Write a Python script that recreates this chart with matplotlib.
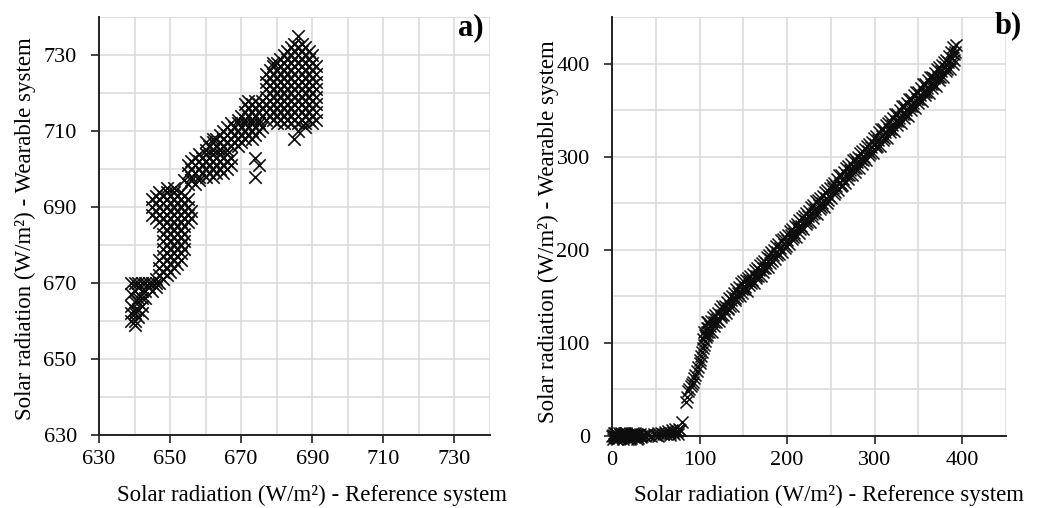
import matplotlib
matplotlib.use("Agg")
import matplotlib.pyplot as plt
from matplotlib.ticker import MultipleLocator

# ---------------- panel a: (reference, wearable) readings, by cluster ----------------
a_low = [(639, 660), (640, 660), (641, 661), (639, 662), (640, 662), (641, 663), (642, 664),
         (639, 664), (640, 665), (641, 666), (639, 667), (640, 668), (642, 668), (641, 669),
         (639, 670), (640, 670), (641, 670), (642, 670), (643, 670), (644, 670), (645, 670),
         (646, 670), (647, 670), (643, 668), (644, 669), (645, 668), (646, 669), (642, 666),
         (641, 665), (640, 663), (642, 662), (643, 666), (640, 659)]
a_mid1 = [(649, 684), (651, 684), (653, 684), (648, 683), (650, 683), (652, 683), (654, 683),
          (649, 682), (651, 682), (653, 682), (648, 681), (650, 681), (652, 681), (654, 681),
          (649, 680), (651, 680), (653, 680), (648, 679), (650, 679), (652, 679), (654, 679),
          (649, 678), (651, 678), (653, 678), (648, 677), (650, 677), (652, 677), (647, 676),
          (649, 676), (651, 676), (653, 676), (648, 675), (650, 675), (652, 675), (647, 674),
          (649, 674), (651, 674), (648, 673), (650, 673), (647, 672), (649, 672), (646, 671),
          (648, 671)]
a_mid2 = [(649, 695), (651, 695), (647, 694), (649, 694), (651, 694), (653, 694), (646, 693),
          (648, 693), (650, 693), (652, 693), (654, 693), (645, 692), (647, 692), (649, 692),
          (651, 692), (653, 692), (655, 692), (646, 691), (648, 691), (650, 691), (652, 691),
          (654, 691), (645, 690), (647, 690), (649, 690), (651, 690), (653, 690), (655, 690),
          (646, 689), (648, 689), (650, 689), (652, 689), (654, 689), (656, 689), (645, 688),
          (647, 688), (649, 688), (651, 688), (653, 688), (655, 688), (646, 687), (648, 687),
          (650, 687), (652, 687), (654, 687), (656, 687), (647, 686), (649, 686), (651, 686),
          (653, 686), (655, 686), (648, 685), (650, 685), (652, 685), (654, 685)]
a_mid3 = [(654, 697), (656, 697), (658, 697), (655, 696), (657, 696),
          (658, 704), (660, 704), (662, 704), (664, 704), (666, 704), (657, 703), (659, 703),
          (661, 703), (663, 703), (665, 703), (667, 703), (656, 702), (658, 702), (660, 702),
          (662, 702), (664, 702), (666, 702), (655, 701), (657, 701), (659, 701), (661, 701),
          (663, 701), (665, 701), (667, 701), (656, 700), (658, 700), (660, 700), (662, 700),
          (664, 700), (666, 700), (655, 699), (657, 699), (659, 699), (661, 699), (663, 699),
          (665, 699), (656, 698), (658, 698), (660, 698), (662, 698), (660, 707), (662, 708)]
a_mid4 = [(667, 712), (669, 712), (671, 712), (673, 712), (675, 712), (666, 711), (668, 711),
          (670, 711), (672, 711), (674, 711), (676, 711), (665, 710), (667, 710), (669, 710),
          (671, 710), (673, 710), (675, 710), (664, 709), (666, 709), (668, 709), (670, 709),
          (672, 709), (674, 709), (663, 708), (665, 708), (667, 708), (669, 708), (671, 708),
          (673, 708), (662, 707), (664, 707), (666, 707), (668, 707), (670, 707), (661, 706),
          (663, 706), (665, 706), (667, 706), (669, 706), (660, 705), (662, 705), (664, 705),
          (666, 705)]
a_mid5 = [(672, 718), (674, 718), (676, 718), (671, 717), (673, 717), (675, 717), (677, 717),
          (672, 716), (674, 716), (676, 716), (671, 715), (673, 715), (675, 715), (677, 715),
          (670, 714), (672, 714), (674, 714), (676, 714), (669, 713), (671, 713), (673, 713),
          (675, 713), (677, 713)]
a_top = [(680, 712), (682, 712), (684, 712), (686, 712), (688, 712), (690, 712),
         (679, 713), (681, 713), (683, 713), (685, 713), (687, 713), (689, 713), (691, 713),
         (678, 714), (680, 714), (682, 714), (684, 714), (686, 714), (688, 714), (690, 714),
         (679, 715), (681, 715), (683, 715), (685, 715), (687, 715), (689, 715), (691, 715),
         (678, 716), (680, 716), (682, 716), (684, 716), (686, 716), (688, 716), (690, 716),
         (679, 717), (681, 717), (683, 717), (685, 717), (687, 717), (689, 717), (691, 717),
         (678, 718), (680, 718), (682, 718), (684, 718), (686, 718), (688, 718), (690, 718),
         (677, 719), (679, 719), (681, 719), (683, 719), (685, 719), (687, 719), (689, 719),
         (691, 719), (678, 720), (680, 720), (682, 720), (684, 720), (686, 720), (688, 720),
         (690, 720), (677, 721), (679, 721), (681, 721), (683, 721), (685, 721), (687, 721),
         (689, 721), (691, 721), (678, 722), (680, 722), (682, 722), (684, 722), (686, 722),
         (688, 722), (690, 722), (677, 723), (679, 723), (681, 723), (683, 723), (685, 723),
         (687, 723), (689, 723), (691, 723), (678, 724), (680, 724), (682, 724), (684, 724),
         (686, 724), (688, 724), (690, 724), (677, 725), (679, 725), (681, 725), (683, 725),
         (685, 725), (687, 725), (689, 725), (691, 725), (678, 726), (680, 726), (682, 726),
         (684, 726), (686, 726), (688, 726), (690, 726), (679, 727), (681, 727), (683, 727),
         (685, 727), (687, 727), (689, 727), (691, 727), (680, 728), (682, 728), (684, 728),
         (686, 728), (688, 728), (690, 728), (681, 729), (683, 729), (685, 729), (687, 729),
         (689, 729), (682, 730), (684, 730), (686, 730), (688, 730), (690, 730), (683, 731),
         (685, 731), (687, 731), (689, 731), (684, 732), (686, 732), (688, 732), (685, 733),
         (687, 733), (686, 735), (679, 728)]
a_outliers = [(674, 703), (675, 701), (674, 698), (685, 708), (686, 710), (688, 711)]

# ---------------- panel b: (reference, wearable) readings ----------------
b_night = [(0, 0), (1, 1), (2, 0), (3, -1), (4, 2), (5, 0), (6, 1), (7, 0), (8, -2), (9, 1),
           (10, 0), (11, 2), (12, 0), (13, 1), (14, -1), (15, 0), (16, 2), (17, 0), (18, 1),
           (19, 0), (20, -1), (21, 0), (22, 2), (23, 1), (24, 0), (25, -1), (26, 1), (27, 0),
           (28, 2), (29, 0), (30, 1), (2, 3), (5, -2), (8, 3), (12, -3), (16, 3), (20, -3),
           (24, 3), (28, -3), (32, 2), (34, 0), (1, -3), (3, 3), (6, -3), (10, 3), (14, 3),
           (18, -3), (22, -2), (26, 3), (30, -2), (33, -1), (36, 1)]
b_dawn = [(38, 0), (42, 1), (45, 0), (48, 2), (50, 1), (53, 0), (56, 3), (58, 2), (60, 4),
          (62, 2), (64, 5), (66, 3), (68, 6), (70, 4), (72, 8), (74, 5), (75, 2), (76, 7),
          (78, 6), (40, 2), (52, 3), (66, 1), (71, 2)]
b_rise = [(80, 15), (84, 36), (86, 42), (87, 48), (88, 50), (90, 54), (91, 56), (92, 58),
          (94, 62), (95, 66), (97, 70), (98, 74), (100, 78), (101, 82), (102, 86), (103, 90),
          (104, 94), (105, 98), (106, 102), (107, 106), (108, 112), (110, 116), (104, 104),
          (106, 108), (109, 122), (105, 112)]
b_day1 = [(108, 108), (112, 118), (116, 122), (120, 126), (124, 130), (128, 136), (132, 138),
          (136, 146), (140, 148), (144, 154), (148, 158), (152, 160), (156, 166), (160, 168),
          (164, 172), (168, 178), (172, 180), (176, 186), (180, 190), (184, 194), (188, 198),
          (192, 202), (196, 206), (200, 210), (204, 216), (208, 218), (212, 224), (216, 226),
          (220, 232), (224, 236), (228, 238), (232, 244), (236, 248), (240, 250), (244, 256),
          (248, 258), (252, 266), (256, 268), (260, 272), (264, 276), (268, 280), (272, 286),
          (276, 288), (280, 294), (284, 298), (288, 300), (292, 306), (296, 310), (300, 314),
          (304, 318), (308, 322), (312, 326), (316, 330), (320, 334), (324, 338), (328, 342),
          (332, 346), (336, 350), (340, 354), (344, 358), (348, 362), (352, 366), (356, 370),
          (360, 374), (364, 378), (368, 384), (372, 386), (376, 392), (380, 396), (384, 402),
          (388, 406), (392, 412)]
b_day2 = [(110, 122), (114, 112), (118, 130), (122, 124), (126, 140), (130, 132),
          (134, 148), (138, 140), (142, 158), (146, 150), (150, 166), (154, 156), (158, 172),
          (162, 164), (166, 180), (170, 172), (174, 188), (178, 182), (182, 198), (186, 190),
          (190, 206), (194, 198), (198, 214), (202, 206), (206, 222), (210, 214), (214, 232),
          (218, 222), (222, 240), (226, 230), (230, 248), (234, 238), (238, 256), (242, 246),
          (246, 264), (250, 256), (254, 272), (258, 264), (262, 280), (266, 272), (270, 290),
          (274, 280), (278, 298), (282, 288), (286, 306), (290, 296), (294, 314), (298, 304),
          (302, 322), (306, 312), (310, 330), (314, 320), (318, 338), (322, 328), (326, 346),
          (330, 336), (334, 354), (338, 344), (342, 362), (346, 352), (350, 370), (354, 360),
          (358, 378), (362, 368), (366, 386), (370, 376), (374, 396), (378, 386), (382, 404),
          (386, 394), (390, 418), (391, 404), (393, 420)]
b_day3 = [(109, 116), (113, 124), (117, 118), (121, 132), (125, 128), (129, 140), (133, 136),
          (137, 150), (141, 146), (145, 160), (149, 154), (153, 168), (157, 162), (161, 174),
          (165, 170), (169, 184), (173, 176), (177, 192), (181, 186), (185, 200), (189, 194),
          (193, 210), (197, 202), (201, 216), (205, 212), (209, 226), (213, 218), (217, 234),
          (221, 228), (225, 242), (229, 234), (233, 252), (237, 244), (241, 258), (245, 250),
          (249, 266), (253, 260), (257, 276), (261, 268), (265, 284), (269, 276), (273, 292),
          (277, 284), (281, 300), (285, 292), (289, 308), (293, 302), (297, 316), (301, 310),
          (305, 326), (309, 318), (313, 334), (317, 326), (321, 342), (325, 334), (329, 350),
          (333, 342), (337, 358), (341, 350), (345, 366), (349, 358), (353, 374), (357, 366),
          (361, 382), (365, 374), (369, 390), (373, 382), (377, 398), (381, 392), (385, 408),
          (389, 400)]
b_day4 = [(111, 112), (115, 128), (119, 122), (123, 136), (127, 130), (131, 144), (135, 140),
          (139, 154), (143, 150), (147, 164), (151, 158), (155, 170), (159, 164), (163, 178),
          (167, 172), (171, 186), (175, 180), (179, 194), (183, 188), (187, 204), (191, 196),
          (195, 212), (199, 204), (203, 220), (207, 214), (211, 228), (215, 222), (219, 236),
          (223, 230), (227, 246), (231, 240), (235, 254), (239, 246), (243, 262), (247, 254),
          (251, 270), (255, 262), (259, 280), (263, 270), (267, 288), (271, 280), (275, 296),
          (279, 288), (283, 304), (287, 296), (291, 312), (295, 304), (299, 320), (303, 312),
          (307, 330), (311, 320), (315, 336), (319, 330), (323, 346), (327, 338), (331, 354),
          (335, 346), (339, 362), (343, 354), (347, 370), (351, 362), (355, 378), (359, 370),
          (363, 386), (367, 378), (371, 394), (375, 386), (379, 402), (383, 394), (387, 412),
          (391, 410)]

x_ticks_a = [630, 650, 670, 690, 710, 730]
y_ticks_a = [630, 650, 670, 690, 710, 730]
x_ticks_b = [0, 100, 200, 300, 400]
y_ticks_b = [0, 100, 200, 300, 400]
xlabel = "Solar radiation (W/m²) - Reference system"
ylabel = "Solar radiation (W/m²) - Wearable system"
panel_labels = ["a)", "b)"]

plt.rcParams['font.family'] = ['Liberation Serif', 'DejaVu Serif']

pts_a = a_low + a_mid1 + a_mid2 + a_mid3 + a_mid4 + a_mid5 + a_top + a_outliers
pts_b = b_night + b_dawn + b_rise + b_day1 + b_day2 + b_day3 + b_day4
ref_a = [p[0] for p in pts_a]
wear_a = [p[1] for p in pts_a]
ref_b = [p[0] for p in pts_b]
wear_b = [p[1] for p in pts_b]

fig = plt.figure(figsize=(10.38, 5.08), dpi=100)
ax_a = fig.add_axes([0.0954, 0.1437, 0.3766, 0.8228])
ax_b = fig.add_axes([0.5896, 0.1417, 0.3796, 0.8248])

GRID = '#d9d9d9'


def style(ax, xlim, ylim, minor, xt, yt):
    ax.set_xlim(*xlim)
    ax.set_ylim(*ylim)
    ax.set_xticks(xt)
    ax.set_yticks(yt)
    ax.xaxis.set_minor_locator(MultipleLocator(minor))
    ax.yaxis.set_minor_locator(MultipleLocator(minor))
    ax.grid(True, which='both', color=GRID, linewidth=1.1, zorder=0)
    ax.set_axisbelow(True)
    for s in ['top', 'right']:
        ax.spines[s].set_visible(False)
    for s in ['bottom', 'left']:
        ax.spines[s].set_linewidth(1.4)
        ax.spines[s].set_color('#222222')
        ax.spines[s].set_zorder(1.5)
    ax.tick_params(which='major', direction='out', length=6, width=1.2,
                   labelsize=16, colors='#222222', labelcolor='black')
    ax.tick_params(axis='x', which='major', pad=5)
    ax.tick_params(axis='y', which='major', pad=10)
    ax.tick_params(which='minor', length=0)


ax_a.scatter(ref_a, wear_a, marker='x', s=80, color='#0d0d0d', linewidths=1.2,
             zorder=2, clip_on=False)
style(ax_a, (630, 740), (630, 740), 10, x_ticks_a, y_ticks_a)

ax_b.scatter(ref_b, wear_b, marker='x', s=75, color='#0d0d0d', linewidths=1.1,
             zorder=2, clip_on=False)
style(ax_b, (0, 450), (0, 450), 50, x_ticks_b, y_ticks_b)

fig.text(312 / 1038, 1 - 495 / 508, xlabel, ha='center', va='center', fontsize=16.5)
fig.text(829 / 1038, 1 - 495 / 508, xlabel, ha='center', va='center', fontsize=16.5)
fig.text(25 / 1038, 1 - 229 / 508, ylabel, ha='center', va='center', fontsize=16.5, rotation=90)
fig.text(548 / 1038, 1 - 232 / 508, ylabel, ha='center', va='center', fontsize=16.5, rotation=90)

fig.text(471 / 1038, 1 - 28 / 508, panel_labels[0], ha='center', va='center',
         fontsize=22, fontweight='bold')
fig.text(1008 / 1038, 1 - 26 / 508, panel_labels[1], ha='center', va='center',
         fontsize=22, fontweight='bold')

fig.savefig("out.png", dpi=100)
